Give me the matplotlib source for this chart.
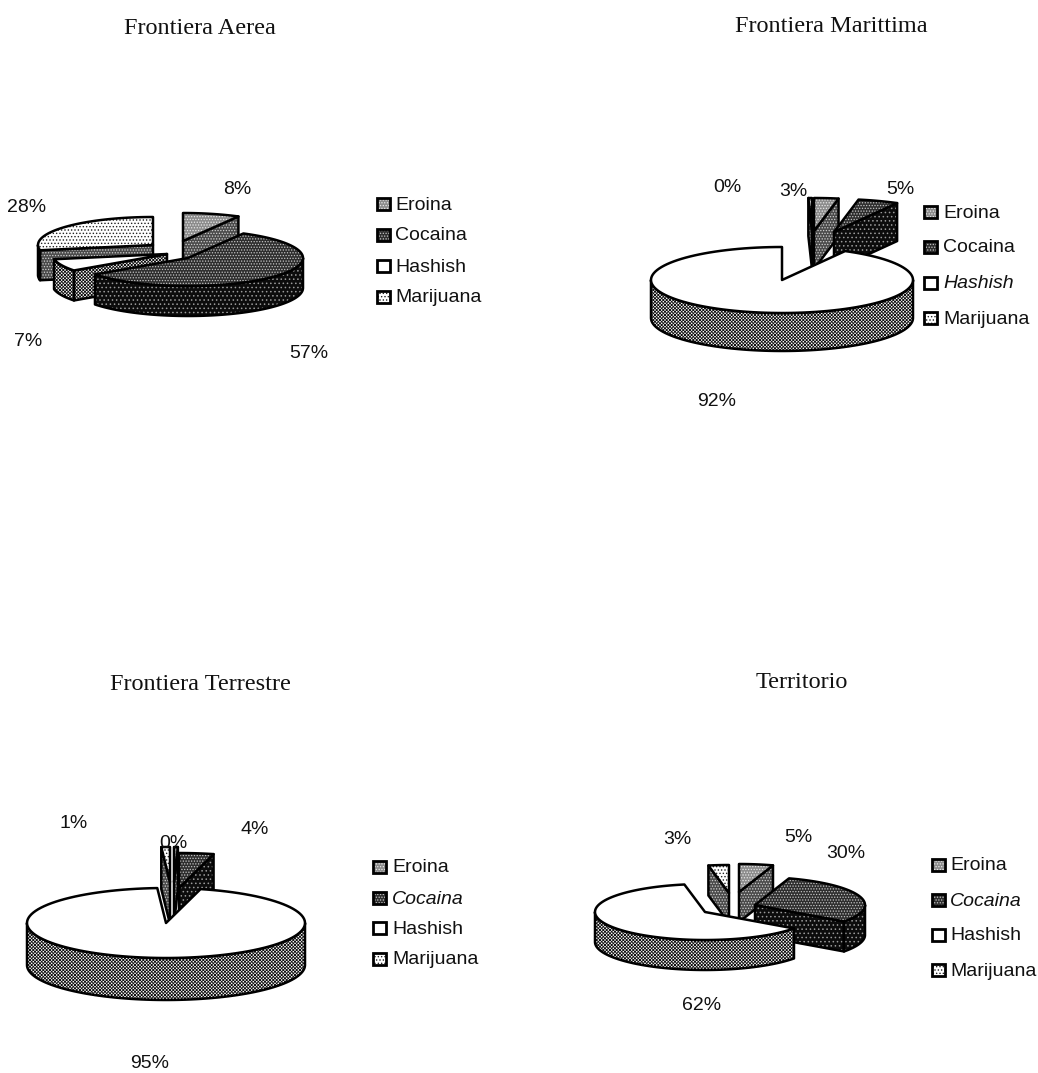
import numpy as np
import matplotlib
matplotlib.use("Agg")
import matplotlib.pyplot as plt
from matplotlib.patches import Polygon, Rectangle

plt.rcParams["hatch.linewidth"] = 0.6

# Seizure shares (%) per drug and per frontier
categories = ["Eroina", "Cocaina", "Hashish", "Marijuana"]
regions = ["Frontiera Aerea", "Frontiera Marittima", "Frontiera Terrestre", "Territorio"]
aerea = [8, 57, 7, 28]
marittima = [3, 5, 92, 0]
terrestre = [0, 4, 95, 1]
territorio = [5, 30, 62, 3]
series = [aerea, marittima, terrestre, territorio]

# Halftone look of each drug: (face, dot colour, hatch)
TOP = {
    "Eroina": ("#8c8c8c", "#e8e8e8", "......"),
    "Cocaina": ("#2e2e2e", "#c4c4c4", "......"),
    "Hashish": ("white", "white", None),
    "Marijuana": ("white", "#222222", "....."),
}
SIDE = {
    "Eroina": ("#4a4a4a", "#d0d0d0", "......"),
    "Cocaina": ("#0c0c0c", "#9a9a9a", "...."),
    "Hashish": ("white", "#111111", "xxxxxxxxxx"),
    "Marijuana": ("#4a4a4a", "#d0d0d0", "......"),
}
OUTLINE = 1.8
MIN_SWEEP = 1.6  # a zero share still shows as a hairline slice

# Pixel layout of each panel
LAYOUT = [
    dict(title=(200, 28), rx=115, ry=28, depth=30,
         apex=[(183, 241), (188, 258), (167, 254), (153, 245)],
         order=[3, 0, 2, 1],
         labels=[(237, 189), (309, 353), (28, 341), (27, 207)],
         key_x=377, text_x=395, key_y=[204, 235, 266, 297], italic=None),
    dict(title=(831, 27), rx=131, ry=33, depth=38,
         apex=[(814, 231), (834, 232), (782, 280), (812, 231)],
         order=[3, 0, 1, 2],
         labels=[(793, 191), (900, 189), (717, 402), (727, 188)],
         key_x=924, text_x=943, key_y=[212, 247, 283, 318], italic="Hashish"),
    dict(title=(200, 684), rx=139, ry=35, depth=42,
         apex=[(174, 882), (179, 888), (166, 923), (170, 882)],
         order=[3, 0, 1, 2],
         labels=[(173, 844), (255, 830), (150, 1064), (74, 823)],
         key_x=373, text_x=392, key_y=[867, 898, 928, 959], italic="Cocaina"),
    dict(title=(802, 682), rx=110, ry=28, depth=30,
         apex=[(739, 892), (755, 905), (705, 912), (729, 893)],
         order=[3, 0, 1, 2],
         labels=[(798, 837), (846, 854), (702, 1006), (677, 839)],
         key_x=932, text_x=950, key_y=[865, 900, 935, 970], italic="Cocaina"),
]

fig = plt.figure(figsize=(10.38, 10.73), dpi=100)
ax = fig.add_axes([0, 0, 1, 1])
ax.set_xlim(0, 1038)
ax.set_ylim(1073, 0)
ax.axis("off")


def shade(points, style, zorder):
    """Fill a polygon with a halftone style and ink its outline."""
    face, dots, hatch = style
    ax.add_patch(Polygon(points, closed=True, facecolor=face, edgecolor=dots,
                         hatch=hatch, linewidth=0, zorder=zorder))
    ax.add_patch(Polygon(points, closed=True, fill=False, edgecolor="black",
                         linewidth=OUTLINE, joinstyle="round", zorder=zorder))


def rim_point(apex, rx, ry, deg):
    t = np.radians(deg)
    return apex[0] + rx * np.sin(t), apex[1] - ry * np.cos(t)


def slice_3d(apex, rx, ry, depth, a0, a1, name, zorder):
    """Extruded pie slice; angles run clockwise from twelve o'clock."""
    top, side = TOP[name], SIDE[name]
    lift = np.array([0, depth])
    tip = np.array(apex, dtype=float)

    # Cut faces that turn towards the viewer
    for deg, visible in ((a0, 180 < a0 < 360), (a1, 0 < a1 < 180)):
        if visible:
            p = np.array(rim_point(apex, rx, ry, deg))
            shade([tip, p, p + lift, tip + lift], side, zorder)

    # Outer wall: only the front half of the ellipse shows
    lo, hi = max(a0, 90), min(a1, 270)
    if hi > lo:
        arc = np.array([rim_point(apex, rx, ry, d) for d in np.linspace(lo, hi, 80)])
        shade(np.vstack([arc, (arc + lift)[::-1]]), side, zorder)

    # Top surface
    arc = [rim_point(apex, rx, ry, d) for d in np.linspace(a0, a1, 120)]
    shade([tip] + arc, top, zorder)


for region, values, cfg in zip(regions, series, LAYOUT):
    ax.text(*cfg["title"], region, family="Liberation Serif", fontsize=17.5,
            ha="center", va="center", color="#111111")

    edges = np.concatenate([[0], np.cumsum(values)]) * 3.6
    for rank, i in enumerate(cfg["order"]):
        a0, a1 = edges[i], edges[i + 1]
        if a1 - a0 < MIN_SWEEP:
            if a1 >= 360:
                a0 = a1 - MIN_SWEEP
            else:
                a1 = a0 + MIN_SWEEP
        slice_3d(cfg["apex"][i], cfg["rx"], cfg["ry"], cfg["depth"],
                 a0, a1, categories[i], 2 + rank)

    for value, pos in zip(values, cfg["labels"]):
        ax.text(*pos, f"{value}%", family="Liberation Sans", fontsize=14,
                ha="center", va="center", color="#111111", zorder=10)

    for name, y in zip(categories, cfg["key_y"]):
        face, dots, hatch = TOP[name]
        ax.add_patch(Rectangle((cfg["key_x"], y - 6), 13, 12, facecolor=face,
                               edgecolor=dots, hatch=hatch, linewidth=0, zorder=5))
        ax.add_patch(Rectangle((cfg["key_x"], y - 6), 13, 12, fill=False,
                               edgecolor="black", linewidth=2, zorder=5))
        ax.text(cfg["text_x"], y + 1, name, family="Liberation Sans", fontsize=14,
                ha="left", va="center", color="#111111",
                style="italic" if name == cfg["italic"] else "normal")

fig.savefig("out.png", dpi=100)
